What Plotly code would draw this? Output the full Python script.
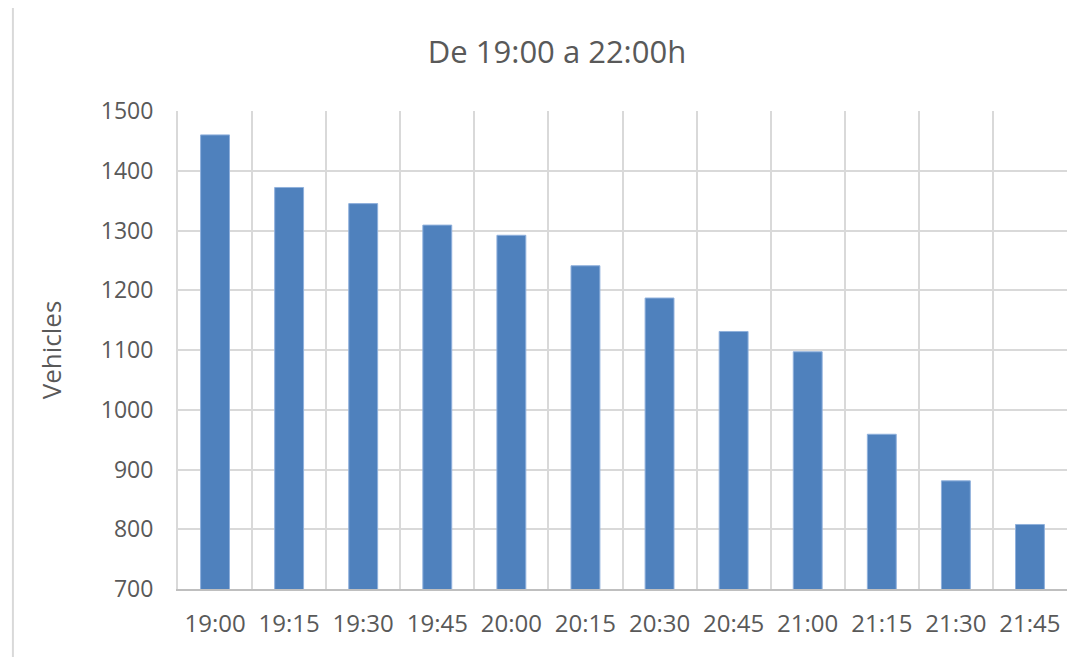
import plotly.graph_objects as go

categories = ["19:00", "19:15", "19:30", "19:45", "20:00", "20:15",
              "20:30", "20:45", "21:00", "21:15", "21:30", "21:45"]
vehicles = [1460, 1372, 1345, 1309, 1292, 1241, 1187, 1131, 1097, 959, 881, 808]
y_ticks = [700, 800, 900, 1000, 1100, 1200, 1300, 1400, 1500]

FONT = "Open Sans"
GREY = "#595959"
GRID = "#d9d9d9"

fig = go.Figure(go.Bar(
    x=categories, y=vehicles,
    marker=dict(color="#4f81bd", line=dict(color="#8fb0dc", width=1)),
    width=0.39,
))

fig.update_layout(
    width=1084, height=657,
    margin=dict(l=170, r=25, t=103, b=76),
    paper_bgcolor="white", plot_bgcolor="white",
    showlegend=False,
    title=dict(text="De 19:00 a 22:00h", x=0.5065, xanchor="center",
               y=0.933, yanchor="middle",
               font=dict(family=FONT, size=31, color=GREY)),
    font=dict(family=FONT, color=GREY),
    xaxis=dict(
        type="category", tickson="boundaries",
        showgrid=True, gridcolor=GRID, gridwidth=2,
        showline=True, linecolor="#bfbfbf", linewidth=2,
        ticks="", tickfont=dict(size=24, color=GREY, family=FONT),
        ticklabelstandoff=12,
    ),
    yaxis=dict(
        range=[700, 1500], tickvals=y_ticks,
        showgrid=True, gridcolor=GRID, gridwidth=2,
        showline=True, linecolor=GRID, linewidth=2,
        ticks="", tickfont=dict(size=23, color=GREY, family=FONT),
        ticklabelstandoff=18,
        zeroline=False,
        title=dict(text="Vehicles", font=dict(size=26, color=GREY, family=FONT),
                   standoff=32),
    ),
    shapes=[dict(type="rect", xref="paper", yref="paper",
                 x0=-0.1857, x1=1.2, y0=-0.3, y1=1.2197,
                 line=dict(color=GRID, width=2), fillcolor="rgba(0,0,0,0)",
                 layer="below")],
)

fig.write_html("out.html")
